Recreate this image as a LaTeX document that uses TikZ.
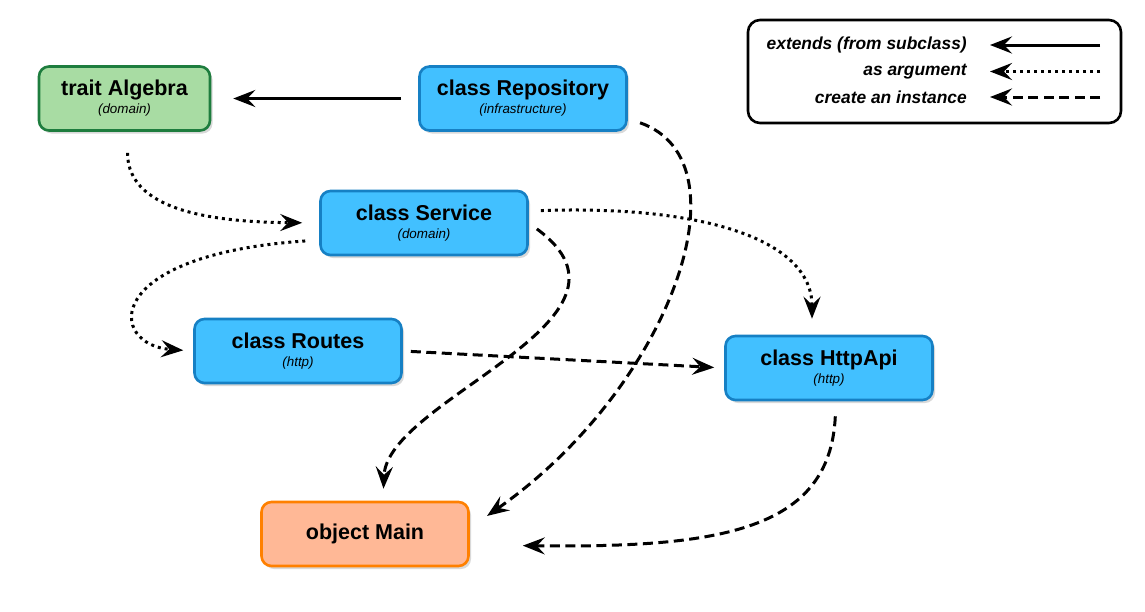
\documentclass[tikz,border=0pt]{standalone}
\usepackage{fontspec}
\setmainfont{Liberation Sans}
\usepackage{xcolor}
\usetikzlibrary{arrows.meta, positioning, shadows}

\definecolor{clsfill}{RGB}{66,192,255}
\definecolor{clsline}{RGB}{22,128,196}
\definecolor{trtfill}{RGB}{168,220,163}
\definecolor{trtline}{RGB}{30,125,62}
\definecolor{objfill}{RGB}{255,184,150}
\definecolor{objline}{RGB}{255,128,0}

\newcommand{\pkg}[1]{{\fontsize{13.4}{18}\selectfont\mdseries\itshape #1}}

\begin{document}
\begin{tikzpicture}[x=1pt, y=1pt, on grid,
        box/.style={draw, rounded corners=10pt, line width=2.6pt, minimum width=207pt,
            minimum height=64pt, inner sep=0pt, align=center,
            font=\fontsize{21.5}{18}\selectfont\bfseries,
            drop shadow={shadow xshift=2.5pt, shadow yshift=-3pt, opacity=.3}},
        cls/.style={box, fill=clsfill, draw=clsline},
        trt/.style={box, fill=trtfill, draw=trtline, minimum width=171pt},
        obj/.style={box, fill=objfill, draw=objline},
        link/.style={line width=3pt, -{Stealth[length=22pt, width=17pt, inset=8pt]}},
        extends/.style={link},
        argument/.style={link, dash pattern=on 3pt off 4pt},
        instance/.style={link, dash pattern=on 10pt off 5.5pt},
        legbox/.style={draw, fill=white, line width=2.6pt, rounded corners=12pt,
            minimum width=373pt, minimum height=103pt},
        legtxt/.style={anchor=east, inner sep=0pt,
            font=\fontsize{17.4}{20}\selectfont\bfseries\itshape}]
        \useasboundingbox (0,0) rectangle (1145,-611);

        \node[trt] (alg) at (124.5,-98.5) {trait Algebra\\\pkg{(domain)}};
        \node[cls] (repo) [right=398.5pt of alg] {class Repository\\\pkg{(infrastructure)}};
        \node[cls] (svc) [below left=124.5pt and 99pt of repo] {class Service\\\pkg{(domain)}};
        \node[cls] (routes) [below left=128pt and 126pt of svc] {class Routes\\\pkg{(http)}};
        \node[cls] (http) [below right=145pt and 405pt of svc] {class HttpApi\\\pkg{(http)}};
        \node[obj] (main) [below right=183pt and 67pt of routes] {object Main};

        % extends
        \draw[extends, shorten <=17pt, shorten >=22pt] (repo.west) -- (alg.east);

        % as argument
        \draw[argument, shorten <=21pt, shorten >=17pt] ([xshift=3pt]alg.south)
            .. controls +(0,-84) and +(-90,1) .. (svc.west);
        \draw[argument, shorten <=14pt, shorten >=10pt] ([yshift=-17pt]svc.west)
            .. controls +(-220,-15) and +(-85,6) .. (routes.west);
        \draw[argument, shorten <=12pt, shorten >=16pt] ([yshift=12pt]svc.east)
            .. controls +(172,6) and +(0,96) .. ([xshift=-17pt]http.north);

        % create an instance
        \draw[instance, shorten <=8pt, shorten >=10pt] (routes.east) -- (http.west);
        \draw[instance, shorten <=10pt, shorten >=12pt] (svc.east)
            .. controls +(132,-97) and +(4,102) .. ([xshift=18pt]main.north);
        \draw[instance, shorten <=13pt, shorten >=21pt] ([yshift=-20pt]repo.east)
            .. controls +(123,-43) and +(200,140) .. ([yshift=6pt]main.east);
        \draw[instance, shorten <=15pt, shorten >=53pt] ([xshift=7pt]http.south)
            .. controls +(-6,-129) and +(251,-3) .. ([yshift=-11pt]main.east);

        % legend
        \node[legbox] (legend) at (934.5,-71.5) {};
        \node[legtxt] (ext) at (967,-45) {extends (from subclass)};
        \node[legtxt] (arg) at (967,-71.5) {as argument};
        \node[legtxt] (ins) at (967,-97) {create an instance};
        \coordinate (ext-a) at (1100,-45);
        \coordinate (ext-b) at (990,-45);
        \coordinate (arg-a) at (1100,-71.5);
        \coordinate (arg-b) at (990,-71.5);
        \coordinate (ins-a) at (1100,-97);
        \coordinate (ins-b) at (990,-97);
        \draw[extends] (ext-a) -- (ext-b);
        \draw[argument] (arg-a) -- (arg-b);
        \draw[instance] (ins-a) -- (ins-b);
    \end{tikzpicture}
\end{document}
